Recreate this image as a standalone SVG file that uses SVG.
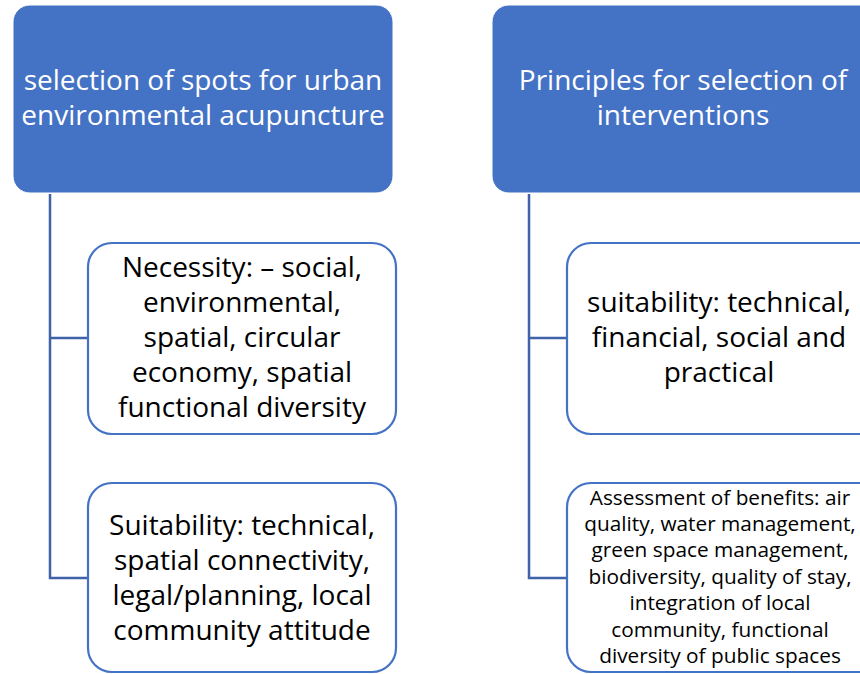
<svg xmlns="http://www.w3.org/2000/svg" width="860" height="674" viewBox="0 0 860 674">
<style>
.parent{fill:#4472C4;stroke:#ffffff;stroke-width:1}
.child{fill:#ffffff;stroke:#4472C4;stroke-width:2.2}
.conn{fill:none;stroke:#3F62A8;stroke-width:2.5}
.pt{font-family:"Open Sans","Liberation Sans",sans-serif;font-size:28px;fill:#ffffff;text-anchor:middle}
.ct{font-family:"Open Sans","Liberation Sans",sans-serif;font-size:28px;fill:#000000;text-anchor:middle}
.cs{font-family:"Open Sans","Liberation Sans",sans-serif;font-size:20.8px;fill:#000000;text-anchor:middle}
</style>
<rect width="860" height="674" fill="#ffffff"/>
<g id="connectors">
<path class="conn" d="M50 194 V578 H88 M50 338 H88"/>
<path class="conn" d="M529 194 V578 H567 M529 338 H567"/>
</g>
<g id="n1">
<rect class="parent" x="13" y="5" width="380" height="188" rx="17"/>
<text class="pt" x="203" y="90">selection of spots for urban</text>
<text class="pt" x="203" y="125">environmental acupuncture</text>
</g>
<g id="n2">
<rect class="parent" x="492" y="5" width="400" height="188" rx="17"/>
<text class="pt" x="683" y="90">Principles for selection of</text>
<text class="pt" x="683" y="125">interventions</text>
</g>
<g id="n3">
<rect class="child" x="88" y="243" width="308" height="191" rx="24"/>
<text class="ct" x="242" y="277">Necessity: – social,</text>
<text class="ct" x="242" y="312">environmental,</text>
<text class="ct" x="242" y="347">spatial, circular</text>
<text class="ct" x="242" y="382">economy, spatial</text>
<text class="ct" x="242" y="417">functional diversity</text>
</g>
<g id="n4">
<rect class="child" x="88" y="483" width="308" height="189" rx="24"/>
<text class="ct" x="242" y="535">Suitability: technical,</text>
<text class="ct" x="242" y="570">spatial connectivity,</text>
<text class="ct" x="242" y="605">legal/planning, local</text>
<text class="ct" x="242" y="640">community attitude</text>
</g>
<g id="n5">
<rect class="child" x="567" y="243" width="320" height="191" rx="24"/>
<text class="ct" x="719" y="312">suitability: technical,</text>
<text class="ct" x="719" y="347">financial, social and</text>
<text class="ct" x="719" y="382">practical</text>
</g>
<g id="n6">
<rect class="child" x="567" y="483" width="320" height="189" rx="24"/>
<text class="cs" x="720" y="505">Assessment of benefits: air</text>
<text class="cs" x="720" y="531">quality, water management,</text>
<text class="cs" x="720" y="557">green space management,</text>
<text class="cs" x="720" y="584">biodiversity, quality of stay,</text>
<text class="cs" x="720" y="610">integration of local</text>
<text class="cs" x="720" y="637">community, functional</text>
<text class="cs" x="720" y="663">diversity of public spaces</text>
</g>
</svg>
